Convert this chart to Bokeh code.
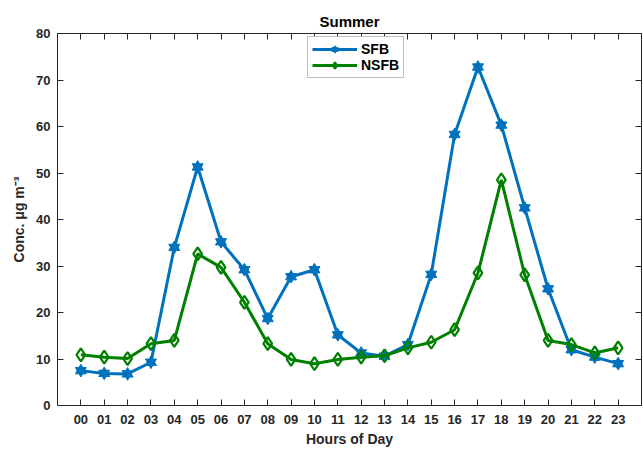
from bokeh.plotting import figure
from bokeh.models import (LinearAxis, FixedTicker, Range1d, Legend, LegendItem, ColumnDataSource)
from bokeh.embed import file_html
from bokeh.resources import INLINE

hours = list(range(24))
hour_labels = ["%02d" % h for h in hours]
sfb = [7.5, 6.9, 6.8, 9.3, 34.0, 51.3, 35.2, 29.2, 18.7, 27.7, 29.2, 15.2,
       11.3, 10.6, 13.1, 28.2, 58.3, 72.8, 60.3, 42.5, 25.1, 12.0, 10.4, 9.0]
nsfb = [10.9, 10.4, 10.1, 13.3, 14.0, 32.6, 29.7, 22.2, 13.3, 9.9, 9.0, 9.9,
        10.4, 10.7, 12.4, 13.6, 16.3, 28.5, 48.5, 28.1, 14.0, 13.1, 11.3, 12.4]
y_ticks = [0, 10, 20, 30, 40, 50, 60, 70, 80]

BLUE = "#0072BD"
GREEN = "#008000"
AX = "#262626"
FONT = "Liberation Sans"

src = ColumnDataSource(dict(x=hours, sfb=sfb, nsfb=nsfb))

p = figure(width=643, height=449, output_backend="svg", toolbar_location=None,
           x_range=Range1d(-1, 24), y_range=Range1d(0, 80),
           min_border_left=57, min_border_right=2, min_border_top=33, min_border_bottom=43,
           x_axis_location=None, y_axis_location=None)
p.background_fill_color = "white"
p.border_fill_color = "white"
p.grid.visible = False
p.outline_line_color = None

p.title.text = "Summer"
p.title.align = "center"
p.title.text_font = FONT
p.title.text_font_size = "15px"
p.title.text_font_style = "bold"
p.title.text_color = "black"
p.title.standoff = 7

xt = FixedTicker(ticks=hours)
yt = FixedTicker(ticks=y_ticks)

def style(ax, labels=True):
    ax.axis_line_color = AX
    ax.axis_line_width = 1
    ax.major_tick_line_color = AX
    ax.major_tick_in = 6
    ax.major_tick_out = 0
    ax.minor_tick_in = 0
    ax.minor_tick_out = 0
    ax.major_label_text_font = FONT
    ax.major_label_text_font_style = "bold"
    ax.major_label_text_color = AX
    ax.axis_label_text_font = FONT
    ax.axis_label_text_font_style = "bold"
    ax.axis_label_text_color = AX
    ax.axis_label_text_font_size = "14px"
    if labels:
        ax.major_label_text_font_size = "13px"
    else:
        ax.major_label_text_font_size = "1px"
        ax.major_label_text_alpha = 0
        ax.major_label_standoff = 0

xb = LinearAxis(ticker=xt, axis_label="Hours of Day")
xb.major_label_overrides = {h: l for h, l in zip(hours, hour_labels)}
style(xb)
xb.major_label_standoff = 9
xb.axis_label_standoff = 4
p.add_layout(xb, "below")

yl = LinearAxis(ticker=yt, axis_label="Conc. \u03bcg m\u207b\u00b3")
style(yl)
yl.major_label_standoff = 7
yl.axis_label_standoff = 6
p.add_layout(yl, "left")

xtop = LinearAxis(ticker=xt)
style(xtop, labels=False)
xtop.major_label_overrides = {h: "" for h in hours}
p.add_layout(xtop, "above")

yr = LinearAxis(ticker=yt)
style(yr, labels=False)
yr.major_label_overrides = {t: "" for t in y_ticks}
p.add_layout(yr, "right")

l1 = p.line("x", "sfb", source=src, line_color=BLUE, line_width=3)
m1a = p.scatter("x", "sfb", source=src, marker="triangle", size=11,
                fill_color=BLUE, line_color=BLUE, line_width=1)
m1b = p.scatter("x", "sfb", source=src, marker="inverted_triangle", size=11,
                fill_color=BLUE, line_color=BLUE, line_width=1)
l2 = p.line("x", "nsfb", source=src, line_color=GREEN, line_width=3)
m2 = p.scatter("x", "nsfb", source=src, marker="diamond", size=13,
               fill_color="white", fill_alpha=0, line_color=GREEN, line_width=2.2)

legend = Legend(items=[LegendItem(label="SFB", renderers=[l1, m1a, m1b]),
                       LegendItem(label="NSFB", renderers=[l2, m2])],
                location=(250, 327))
legend.label_text_font = FONT
legend.label_text_font_style = "bold"
legend.label_text_font_size = "14px"
legend.label_text_color = "black"
legend.glyph_width = 45
legend.glyph_height = 16
legend.label_standoff = 4
legend.label_height = 16
legend.spacing = 0
legend.padding = 4
legend.margin = 0
legend.border_line_color = "#7f7f7f"
legend.border_line_width = 1
legend.background_fill_color = "white"
p.add_layout(legend, "center")

open("out.html", "w").write(file_html(p, INLINE))
